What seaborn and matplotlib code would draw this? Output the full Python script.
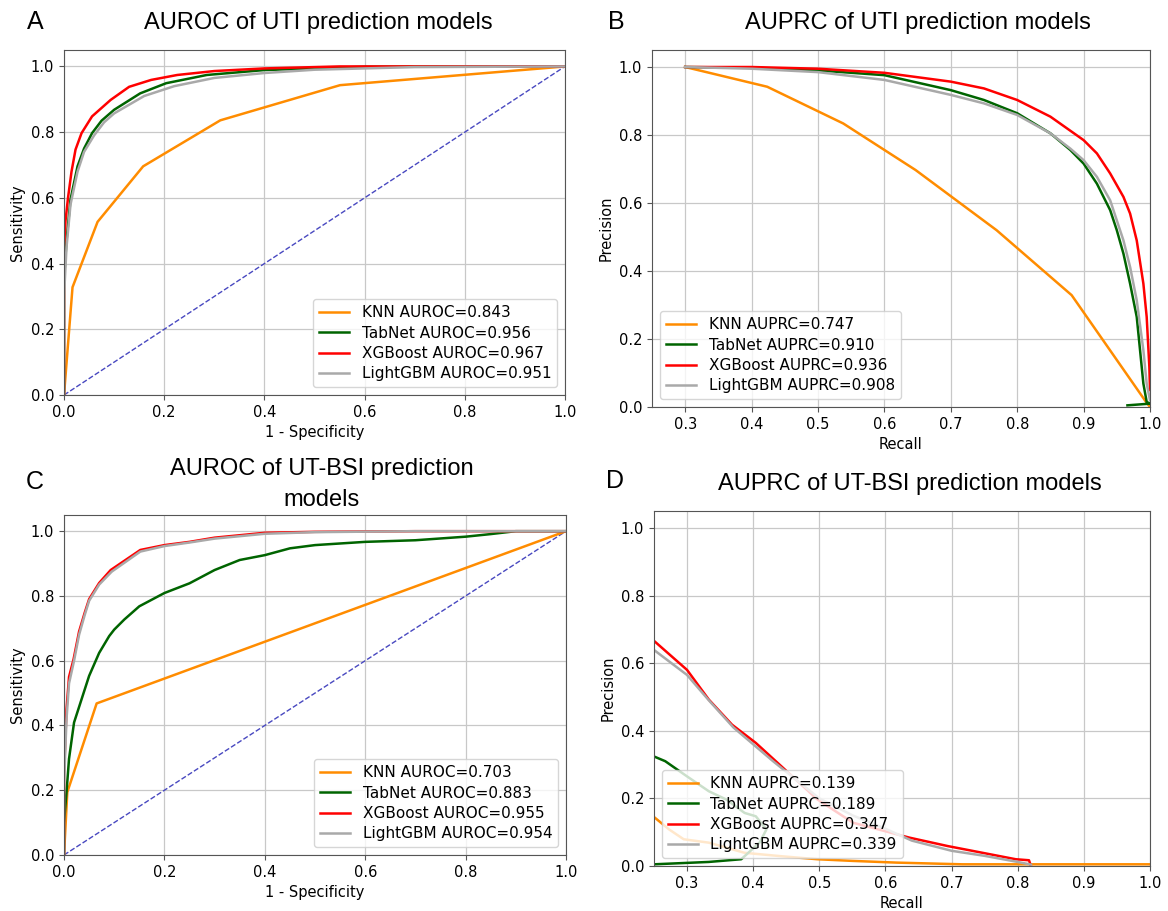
import numpy as np
import matplotlib
matplotlib.use("Agg")
import matplotlib.pyplot as plt
import seaborn as sns

# models and colours
models = ["KNN", "TabNet", "XGBoost", "LightGBM"]
colors = ["darkorange", "darkgreen", "red", "darkgray"]

# ---- A: ROC, UTI ----
uti_auroc = [0.843, 0.956, 0.967, 0.951]
a_knn_x = [0, 0.017, 0.067, 0.158, 0.312, 0.551, 1.0]
a_knn_y = [0, 0.328, 0.527, 0.696, 0.836, 0.943, 1.0]
a_tab_x = [0, 0, 0.005, 0.013, 0.027, 0.04, 0.056, 0.075, 0.1, 0.152, 0.204, 0.285, 0.4, 0.6, 1.0]
a_tab_y = [0, 0.35, 0.47, 0.595, 0.696, 0.75, 0.797, 0.835, 0.868, 0.918, 0.949, 0.974, 0.989, 0.999, 1.0]
a_xgb_x = [0, 0, 0.003, 0.008, 0.015, 0.023, 0.035, 0.056, 0.093, 0.13, 0.174, 0.226, 0.3, 0.4, 0.55, 1.0]
a_xgb_y = [0, 0.45, 0.53, 0.6, 0.68, 0.747, 0.797, 0.848, 0.898, 0.938, 0.959, 0.974, 0.986, 0.994, 1.0, 1.0]
a_lgb_x = [0, 0, 0.005, 0.013, 0.027, 0.04, 0.06, 0.08, 0.1, 0.16, 0.22, 0.3, 0.4, 0.5, 0.7, 1.0]
a_lgb_y = [0, 0.3, 0.45, 0.58, 0.68, 0.74, 0.79, 0.83, 0.857, 0.91, 0.94, 0.965, 0.98, 0.99, 0.998, 1.0]

# ---- B: PR, UTI ----
uti_auprc = [0.747, 0.910, 0.936, 0.908]
b_knn_x = [0.3, 0.4235, 0.538, 0.647, 0.769, 0.882, 0.994, 1.0]
b_knn_y = [1.0, 0.942, 0.834, 0.697, 0.52, 0.329, 0.015, 0.0]
b_tab_x = [0.3, 0.4, 0.5, 0.6, 0.7, 0.75, 0.8, 0.85, 0.88, 0.9, 0.92, 0.94, 0.95, 0.96, 0.97, 0.98, 0.985, 0.99, 0.995, 1.0, 0.966]
b_tab_y = [1.0, 0.998, 0.99, 0.976, 0.932, 0.903, 0.864, 0.805, 0.756, 0.716, 0.657, 0.579, 0.52, 0.451, 0.363, 0.265, 0.167, 0.069, 0.015, 0.01, 0.005]
b_xgb_x = [0.3, 0.4, 0.5, 0.6, 0.7, 0.75, 0.8, 0.85, 0.9, 0.92, 0.94, 0.96, 0.97, 0.98, 0.99, 0.995, 0.999, 1.0]
b_xgb_y = [1.0, 1.0, 0.995, 0.983, 0.957, 0.937, 0.903, 0.854, 0.785, 0.746, 0.687, 0.618, 0.569, 0.49, 0.363, 0.265, 0.118, 0.05]
b_lgb_x = [0.3, 0.4, 0.5, 0.6, 0.7, 0.75, 0.8, 0.85, 0.88, 0.9, 0.92, 0.94, 0.96, 0.97, 0.98, 0.99, 0.995, 1.0]
b_lgb_y = [1.0, 0.995, 0.985, 0.962, 0.918, 0.893, 0.859, 0.805, 0.76, 0.726, 0.677, 0.608, 0.49, 0.412, 0.314, 0.167, 0.069, 0.02]

# ---- C: ROC, UT-BSI ----
bsi_auroc = [0.703, 0.883, 0.955, 0.954]
c_knn_x = [0, 0.0066, 0.065, 1.0]
c_knn_y = [0, 0.194, 0.468, 1.0]
c_tab_x = [0, 0, 0.005, 0.01, 0.02, 0.035, 0.05, 0.07, 0.09, 0.1, 0.12, 0.15, 0.2, 0.25, 0.3, 0.35, 0.4, 0.45, 0.5, 0.6, 0.7, 0.8, 0.85, 0.9, 1.0]
c_tab_y = [0, 0.1, 0.194, 0.297, 0.409, 0.481, 0.553, 0.624, 0.676, 0.696, 0.727, 0.768, 0.809, 0.839, 0.88, 0.911, 0.926, 0.947, 0.957, 0.967, 0.972, 0.983, 0.991, 1.0, 1.0]
c_xgb_x = [0, 0, 0.005, 0.01, 0.019, 0.03, 0.041, 0.05, 0.07, 0.093, 0.152, 0.2, 0.25, 0.3, 0.4, 0.5, 0.7, 1.0]
c_xgb_y = [0, 0.25, 0.45, 0.55, 0.604, 0.69, 0.747, 0.79, 0.84, 0.88, 0.942, 0.957, 0.967, 0.98, 0.995, 0.998, 1.0, 1.0]
c_lgb_x = [0, 0, 0.005, 0.01, 0.02, 0.03, 0.041, 0.05, 0.07, 0.095, 0.152, 0.2, 0.25, 0.3, 0.4, 0.5, 0.7, 1.0]
c_lgb_y = [0, 0.22, 0.42, 0.53, 0.6, 0.68, 0.74, 0.785, 0.835, 0.875, 0.937, 0.954, 0.965, 0.977, 0.992, 0.997, 1.0, 1.0]

# ---- D: PR, UT-BSI ----
bsi_auprc = [0.139, 0.189, 0.347, 0.339]
d_knn_x = [0.25, 0.273, 0.295, 0.333, 0.387, 0.442, 0.497, 0.551, 0.617, 0.716, 1.0]
d_knn_y = [0.145, 0.108, 0.079, 0.069, 0.039, 0.029, 0.02, 0.015, 0.01, 0.005, 0.005]
d_tab_x = [0.25, 0.267, 0.3, 0.333, 0.36, 0.387, 0.404, 0.42, 0.41, 0.382, 0.333, 0.25]
d_tab_y = [0.324, 0.31, 0.265, 0.221, 0.196, 0.157, 0.147, 0.108, 0.07, 0.02, 0.012, 0.005]
d_xgb_x = [0.25, 0.3, 0.333, 0.368, 0.404, 0.437, 0.497, 0.551, 0.636, 0.694, 0.797, 0.817, 0.82]
d_xgb_y = [0.666, 0.58, 0.492, 0.418, 0.364, 0.305, 0.197, 0.128, 0.084, 0.059, 0.02, 0.017, 0.0]
d_lgb_x = [0.25, 0.3, 0.333, 0.37, 0.4, 0.43, 0.5, 0.55, 0.6, 0.64, 0.7, 0.75, 0.8, 0.82]
d_lgb_y = [0.639, 0.565, 0.49, 0.41, 0.36, 0.31, 0.2, 0.15, 0.11, 0.075, 0.045, 0.03, 0.012, 0.004]

roc_ticks = [0.0, 0.2, 0.4, 0.6, 0.8, 1.0]
pr_xticks = [0.3, 0.4, 0.5, 0.6, 0.7, 0.8, 0.9, 1.0]

fig = plt.figure(figsize=(11.68, 9.11), dpi=100)
title_font = "Liberation Sans"


def draw_panel(ax, curves, aucs, metric, loc, roc):
    if roc:
        sns.lineplot(x=[0, 1], y=[0, 1], ax=ax, color="#4848c0", lw=1, linestyle="--")
    for name, col, (xs, ys), auc in zip(models, colors, curves, aucs):
        sns.lineplot(x=xs, y=ys, ax=ax, color=col, lw=1.8, sort=False, estimator=None,
                     label=f"{name} {metric}={auc:.3f}")
    ax.grid(True, color="#c8c8c8", lw=0.9)
    ax.set_axisbelow(True)
    ax.set_ylim(0, 1.05)
    ax.set_yticks(roc_ticks)
    if roc:
        ax.set_xlim(0, 1.0)
        ax.set_xticks(roc_ticks)
        ax.set_xlabel("1 - Specificity", fontsize=10.5)
        ax.set_ylabel("Sensitivity", fontsize=10.5)
    else:
        ax.set_xlim(0.25, 1.0)
        ax.set_xticks(pr_xticks)
        ax.set_xlabel("Recall", fontsize=10.5)
        ax.set_ylabel("Precision", fontsize=10.5)
    ax.tick_params(labelsize=10.5, color="#555555")
    for sp in ax.spines.values():
        sp.set_color("#555555")
    ax.legend(loc=loc, fontsize=11, labelspacing=0.35)


axA = fig.add_axes([0.0548, 0.5664, 0.4289, 0.3787])
draw_panel(axA, [(a_knn_x, a_knn_y), (a_tab_x, a_tab_y), (a_xgb_x, a_xgb_y), (a_lgb_x, a_lgb_y)],
           uti_auroc, "AUROC", "lower right", True)

axB = fig.add_axes([0.5582, 0.5532, 0.4264, 0.3919])
draw_panel(axB, [(b_knn_x, b_knn_y), (b_tab_x, b_tab_y), (b_xgb_x, b_xgb_y), (b_lgb_x, b_lgb_y)],
           uti_auprc, "AUPRC", "lower left", False)

axC = fig.add_axes([0.0548, 0.0615, 0.4298, 0.3732])
draw_panel(axC, [(c_knn_x, c_knn_y), (c_tab_x, c_tab_y), (c_xgb_x, c_xgb_y), (c_lgb_x, c_lgb_y)],
           bsi_auroc, "AUROC", "lower right", True)

axD = fig.add_axes([0.5599, 0.0494, 0.4247, 0.3897])
draw_panel(axD, [(d_knn_x, d_knn_y), (d_tab_x, d_tab_y), (d_xgb_x, d_xgb_y), (d_lgb_x, d_lgb_y)],
           bsi_auprc, "AUPRC", "lower left", False)

# titles and panel letters
fig.text(0.2723, 0.9687, "AUROC of UTI prediction models", ha="center", va="baseline",
         fontsize=17, family=title_font)
fig.text(0.786, 0.9687, "AUPRC of UTI prediction models", ha="center", va="baseline",
         fontsize=17, family=title_font)
fig.text(0.2757, 1 - 475.5 / 911, "AUROC of UT-BSI prediction", ha="center", va="baseline",
         fontsize=17, family=title_font)
fig.text(0.2757, 1 - 505.5 / 911, "models", ha="center", va="baseline",
         fontsize=17, family=title_font)
fig.text(0.779, 0.4616, "AUPRC of UT-BSI prediction models", ha="center", va="baseline",
         fontsize=17, family=title_font)
for letter, x, y in [("A", 0.030, 0.9687), ("B", 0.5274, 0.9687), ("C", 0.030, 0.4627), ("D", 0.5265, 0.4638)]:
    fig.text(x, y, letter, ha="center", va="baseline", fontsize=18, family=title_font)

fig.savefig("out.png", dpi=100, facecolor="white")
